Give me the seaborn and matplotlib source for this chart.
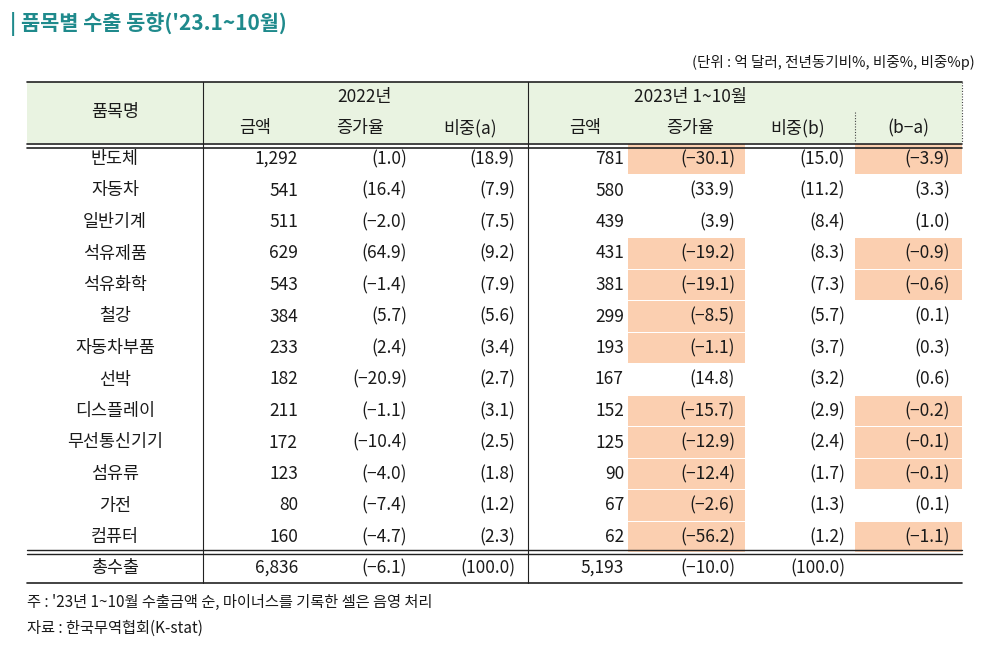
import matplotlib
matplotlib.use("Agg")
import matplotlib.pyplot as plt
import seaborn as sns
import numpy as np

sns.set_theme(style="white")
plt.rcParams["font.family"] = ["Noto Sans CJK JP", "Noto Sans CJK KR",
                               "Noto Sans CJK SC", "DejaVu Sans"]
plt.rcParams["axes.unicode_minus"] = False

# ─────────────────────────────────────────────
# Data
# ─────────────────────────────────────────────
items = ["반도체", "자동차", "일반기계", "석유제품", "석유화학", "철강", "자동차부품",
         "선박", "디스플레이", "무선통신기기", "섬유류", "가전", "컴퓨터"]
amt22 = [1292, 541, 511, 629, 543, 384, 233, 182, 211, 172, 123, 80, 160]
gr22 = [1.0, 16.4, -2.0, 64.9, -1.4, 5.7, 2.4, -20.9, -1.1, -10.4, -4.0, -7.4, -4.7]
sh22 = [18.9, 7.9, 7.5, 9.2, 7.9, 5.6, 3.4, 2.7, 3.1, 2.5, 1.8, 1.2, 2.3]
amt23 = [781, 580, 439, 431, 381, 299, 193, 167, 152, 125, 90, 67, 62]
gr23 = [-30.1, 33.9, 3.9, -19.2, -19.1, -8.5, -1.1, 14.8, -15.7, -12.9, -12.4, -2.6, -56.2]
sh23 = [15.0, 11.2, 8.4, 8.3, 7.3, 5.7, 3.7, 3.2, 2.9, 2.4, 1.7, 1.3, 1.2]
diff = [-3.9, 3.3, 1.0, -0.9, -0.6, 0.1, 0.3, 0.6, -0.2, -0.1, -0.1, 0.1, -1.1]
total = ["총수출", 6836, -6.1, 100.0, 5193, -10.0, 100.0]

TEAL = "#1f8a8c"
SHADE = "#fbcfb0"
HEAD = "#e9f3e1"
INK = "#1a1a1a"

fig = plt.figure(figsize=(9.85, 6.55), dpi=100)
ax = fig.add_axes([0, 0, 1, 1])
ax.set_xlim(0, 985)
ax.set_ylim(655, 0)
ax.axis("off")

def num(v):
    return f"{v:,}"

def par(v):
    return f"({v:.1f})".replace("-", "\u2212")

# title / unit
ax.text(10, 24, "| 품목별 수출 동향('23.1~10월)", color=TEAL, fontsize=15,
        fontweight="bold", va="center")
ax.text(975, 62, "(단위 : 억 달러, 전년동기비%, 비중%, 비중%p)", fontsize=10.5,
        ha="right", va="center", color=INK)

L, R = 27, 962
ax.fill_between([L, R], 82, 143, color=HEAD, lw=0)
ax.plot([L, R], [82, 82], color="#222", lw=1.2)
for yy in (143.5, 147.5):
    ax.plot([L, R], [yy, yy], color="#222", lw=1.2)
ax.plot([203, 203], [82, 583], color="#222", lw=0.8)
ax.plot([528, 528], [82, 583], color="#222", lw=0.8)
ax.plot([855, 855], [112, 143], color="#444", lw=0.8, ls=(0, (1, 1.5)))
ax.plot([R, R], [82, 143], color="#444", lw=0.8, ls=(0, (1, 1.5)))

# header text
fs = 12.5
ax.text(115, 112, "품목명", ha="center", va="center", fontsize=fs, color=INK)
ax.text(365, 97, "2022년", ha="center", va="center", fontsize=fs, color=INK)
ax.text(690, 97, "2023년 1~10월", ha="center", va="center", fontsize=fs, color=INK)
for x, t in [(255, "금액"), (360, "증가율"), (470, "비중(a)"), (585, "금액"),
             (690, "증가율"), (798, "비중(b)"), (908, "(b\u2212a)")]:
    ax.text(x, 128, t, ha="center", va="center", fontsize=fs, color=INK)

# rows
y0, dy = 159, 31.5
ys = y0 + dy * np.arange(len(items))
shade_gr = [v < 0 for v in gr23]
shade_df = [v < 0 for v in diff]
ax.barh(ys[shade_gr], 117, left=628, height=dy - 1, color=SHADE, lw=0)
ax.barh(ys[shade_df], 107, left=855, height=dy - 1, color=SHADE, lw=0)

cols = [(298, amt22, num), (407, gr22, par), (515, sh22, par),
        (624, amt23, num), (735, gr23, par), (845, sh23, par), (950, diff, par)]
for i, y in enumerate(ys):
    ax.text(115, y, items[i], ha="center", va="center", fontsize=fs, color=INK)
    for x, vals, f in cols:
        ax.text(x, y, f(vals[i]), ha="right", va="center", fontsize=fs, color=INK)

# total row
yt = 568
for yy in (550, 554):
    ax.plot([L, R], [yy, yy], color="#222", lw=1.0)
ax.plot([L, R], [583, 583], color="#222", lw=1.2)
ax.text(115, yt, total[0], ha="center", va="center", fontsize=fs, color=INK)
for (x, _, f), v in zip(cols[:6], total[1:]):
    ax.text(x, yt, f(v), ha="right", va="center", fontsize=fs, color=INK)

ax.text(27, 602, "주 : '23년 1~10월 수출금액 순, 마이너스를 기록한 셀은 음영 처리",
        va="center", fontsize=11, color=INK)
ax.text(27, 628, "자료 : 한국무역협회(K-stat)", va="center", fontsize=11, color=INK)

fig.savefig("out.png", dpi=100)
